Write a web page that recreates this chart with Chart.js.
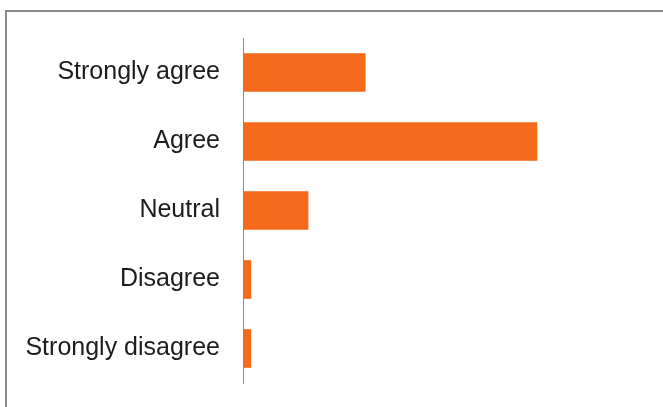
<!DOCTYPE html>
<html>
<head>
<meta charset="utf-8">
<script src="https://cdn.jsdelivr.net/npm/chart.js@4"></script>
<style>
  html, body { margin: 0; padding: 0; background: #fff; }
  #wrap { position: relative; width: 663px; height: 407px; overflow: hidden; }
  #frame { position: absolute; left: 5px; top: 10px; width: 700px; height: 450px;
           border-top: 2px solid #8a8a8a; border-left: 2px solid #8a8a8a; box-sizing: border-box; }
  canvas { position: absolute; left: 0; top: 0; }
</style>
</head>
<body>
<div id="wrap">
  <div id="frame"></div>
  <canvas id="c" width="663" height="407"></canvas>
</div>
<script>
const categories = ["Strongly agree", "Agree", "Neutral", "Disagree", "Strongly disagree"];
const responses = [15, 36, 8, 1, 1];
const axisMax = 40;

new Chart(document.getElementById('c'), {
  type: 'bar',
  data: {
    labels: categories,
    datasets: [{
      data: responses,
      backgroundColor: '#F46A1C',
      borderWidth: 0,
      categoryPercentage: 1,
      barPercentage: 0.56
    }]
  },
  options: {
    indexAxis: 'y',
    responsive: false,
    animation: false,
    layout: { padding: { top: 38, bottom: 24, left: 0, right: 93 } },
    plugins: { legend: { display: false }, tooltip: { enabled: false } },
    scales: {
      x: { display: false, min: 0, max: axisMax },
      y: {
        grid: { display: false, drawTicks: false },
        border: { display: true, color: '#8c8c8c', width: 1 },
        ticks: {
          color: '#1c1c1c',
          padding: 23,
          font: { family: 'Liberation Sans', size: 25 }
        },
        afterFit: function(s) { s.width = 243; s.paddingTop = 0; s.paddingBottom = 0; }
      }
    }
  }
});
</script>
</body>
</html>
